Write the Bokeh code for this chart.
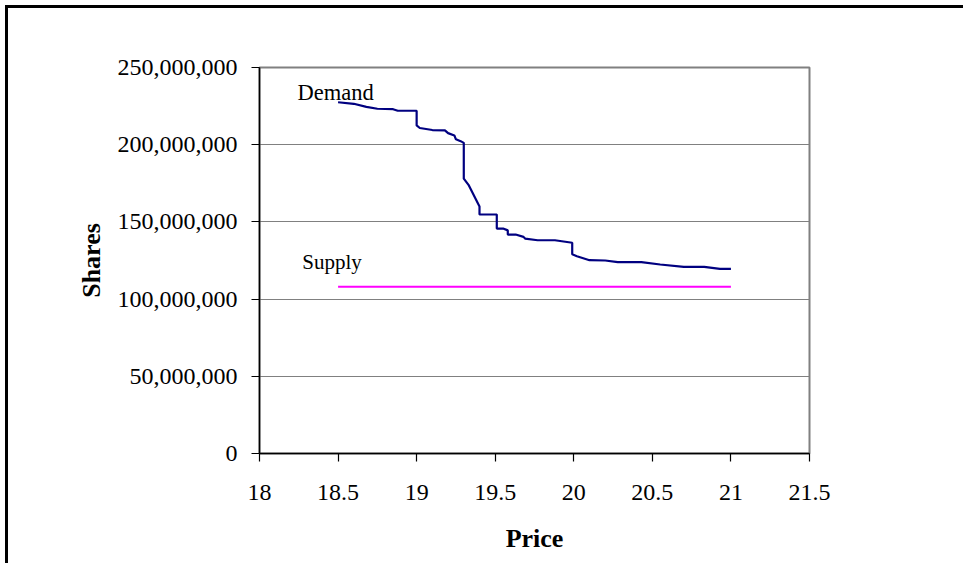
from bokeh.plotting import figure
from bokeh.embed import file_html
from bokeh.resources import INLINE
from bokeh.models import Range1d, FixedTicker, NumeralTickFormatter, CustomJSTickFormatter
from bokeh.core.properties import value

# ---- data ----
demand_price = [18.50, 18.60, 18.68, 18.75, 18.85, 18.88, 19.00, 19.00, 19.02, 19.10,
                19.18, 19.20, 19.24, 19.25, 19.28, 19.30, 19.30, 19.33, 19.40, 19.40,
                19.51, 19.51, 19.55, 19.58, 19.58, 19.63, 19.68, 19.69, 19.77, 19.88,
                19.99, 19.99, 20.02, 20.06, 20.10, 20.20, 20.28, 20.43, 20.55, 20.70,
                20.83, 20.93, 21.00]
demand_shares_m = [227.5, 226.5, 224.5, 223.3, 223.0, 222.0, 222.0, 212.5, 210.8, 209.5,
                   209.3, 207.5, 206.0, 203.5, 202.3, 201.2, 178.0, 174.0, 160.0, 154.8,
                   154.8, 145.7, 145.7, 144.5, 141.8, 141.8, 140.3, 139.2, 138.1, 138.1,
                   136.5, 129.0, 127.8, 126.5, 125.2, 125.0, 123.9, 123.9, 122.4, 120.9,
                   120.9, 119.6, 119.6]
supply_price = [18.5, 21.0]
supply_shares_m = [108.0, 108.0]

x_ticks = [18, 18.5, 19, 19.5, 20, 20.5, 21, 21.5]
y_ticks = [0, 50e6, 100e6, 150e6, 200e6, 250e6]

demand_shares = [v * 1e6 for v in demand_shares_m]
supply_shares = [v * 1e6 for v in supply_shares_m]

FONT = "Liberation Serif"

p = figure(output_backend="svg", toolbar_location=None,
           frame_width=550, frame_height=386,
           min_border_left=251, min_border_right=154,
           min_border_top=59, min_border_bottom=110,
           x_range=Range1d(18, 21.5), y_range=Range1d(0, 250e6))

# outer chart-area border (top and left only visible in the reference)
p.styles = {"margin-left": "5px", "margin-top": "5px",
            "border-left": "3px solid black", "border-top": "3px solid black"}

p.background_fill_color = "white"
p.border_fill_color = "white"
p.outline_line_color = "#808080"
p.outline_line_width = 2

# grid
p.xgrid.grid_line_color = None
p.ygrid.grid_line_color = "#808080"
p.ygrid.grid_line_width = 1.2
p.ygrid.ticker = FixedTicker(ticks=y_ticks)

# axes
p.xaxis.ticker = FixedTicker(ticks=x_ticks)
p.yaxis.ticker = FixedTicker(ticks=y_ticks)
p.xaxis.formatter = CustomJSTickFormatter(code="return tick.toString();")
p.yaxis.formatter = NumeralTickFormatter(format="0,0")
for ax in (p.xaxis, p.yaxis):
    ax.axis_line_color = "black"
    ax.axis_line_width = 1.5
    ax.major_tick_line_color = "black"
    ax.major_tick_line_width = 1.2
    ax.major_tick_out = 8
    ax.major_tick_in = 0
    ax.minor_tick_line_color = None
    ax.major_label_text_font = FONT
    ax.major_label_text_font_size = "24px"
    ax.major_label_text_color = "black"
    ax.axis_label_text_font = FONT
    ax.axis_label_text_font_style = "bold"
    ax.axis_label_text_font_size = "26px"
    ax.axis_label_text_color = "black"

p.xaxis.axis_label = "Price"
p.yaxis.axis_label = "Shares"
p.xaxis.major_label_standoff = 23
p.yaxis.major_label_standoff = 14
p.xaxis.axis_label_standoff = 21
p.yaxis.axis_label_standoff = 9

# series
p.line(demand_price, demand_shares, line_color="#000080", line_width=2.2)
p.line(supply_price, supply_shares, line_color="#FF00FF", line_width=2.2)

# labels
p.text(x=[18.242], y=[234.0e6], text=["Demand"], text_font=value(FONT),
       text_font_size="22.5px", text_color="black", text_baseline="alphabetic")
p.text(x=[18.272], y=[124.0e6], text=["Supply"], text_font=value(FONT),
       text_font_size="21px", text_color="black", text_baseline="alphabetic")

open("out.html", "w").write(file_html(p, INLINE))
